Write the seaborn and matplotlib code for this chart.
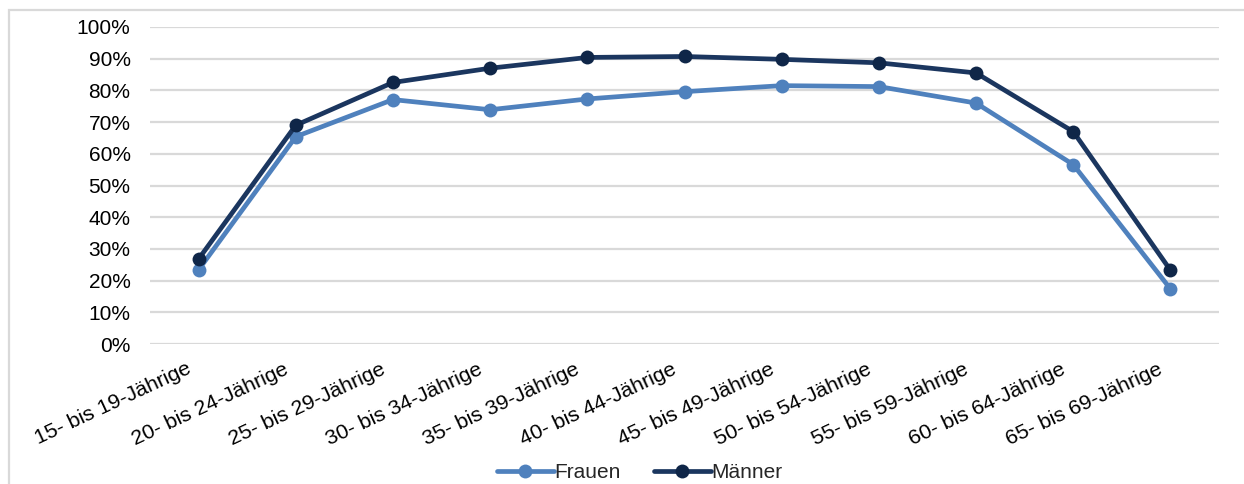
import matplotlib
matplotlib.use("Agg")
import matplotlib.pyplot as plt
import matplotlib.patches as mpatches
from matplotlib.lines import Line2D
import seaborn as sns
import pandas as pd

categories = ["15- bis 19-Jährige", "20- bis 24-Jährige", "25- bis 29-Jährige",
              "30- bis 34-Jährige", "35- bis 39-Jährige", "40- bis 44-Jährige",
              "45- bis 49-Jährige", "50- bis 54-Jährige", "55- bis 59-Jährige",
              "60- bis 64-Jährige", "65- bis 69-Jährige"]
frauen = [23.4, 65.4, 77.1, 73.9, 77.3, 79.6, 81.5, 81.2, 76.0, 56.6, 17.4]
maenner = [26.8, 69.0, 82.5, 87.0, 90.4, 90.7, 89.8, 88.7, 85.5, 67.0, 23.3]
series_names = ["Frauen", "Männer"]
yticks = [0, 10, 20, 30, 40, 50, 60, 70, 80, 90, 100]
ytick_labels = [f"{v}%" for v in yticks]

col_f = "#4F81BD"
col_m = "#1B365F"
mfc_m = "#0F2648"
LW = 3.4
MS = 10

df = pd.DataFrame({
    "Altersgruppe": categories * 2,
    "Wert": frauen + maenner,
    "Geschlecht": [series_names[0]] * len(categories) + [series_names[1]] * len(categories),
})

sns.set_theme(style="white")
plt.rcParams["font.family"] = ["Liberation Sans", "DejaVu Sans"]

fig = plt.figure(figsize=(12.44, 4.84), dpi=100)
W, H = 1244, 484
ax = fig.add_axes([150 / W, 1 - 344 / H, (1219 - 150) / W, (344 - 27) / H])

sns.lineplot(data=df, x="Altersgruppe", y="Wert", hue="Geschlecht",
             palette={"Frauen": col_f, "Männer": col_m},
             hue_order=series_names, sort=False, ax=ax,
             linewidth=LW, marker="o", markersize=MS, markeredgewidth=0,
             legend=False)

for ln in ax.get_lines():
    if matplotlib.colors.to_hex(ln.get_color()) == col_m.lower():
        ln.set_markerfacecolor(mfc_m)
        ln.set_zorder(4)

ax.set_xlim(-0.5, len(categories) - 0.5)
ax.set_ylim(0, 100)
ax.set_yticks(yticks)
ax.set_yticklabels(ytick_labels, fontsize=15, color="#000000")
# label anchors sit slightly left of each category centre (invisible ticks)
label_shift = 0.13
ax.set_xticks([i - label_shift for i in range(len(categories))])
ax.set_xticklabels(categories, fontsize=15.3, color="#000000", rotation=25,
                   ha="right", va="top", rotation_mode="anchor")
ax.tick_params(axis="both", length=0)
ax.tick_params(axis="y", pad=14)
ax.tick_params(axis="x", pad=11)
ax.set_xlabel("")
ax.set_ylabel("")
ax.yaxis.grid(True, color="#D9D9D9", linewidth=1.6)
ax.set_axisbelow(True)
for s in ax.spines.values():
    s.set_visible(False)

handles = [
    Line2D([], [], color=col_f, linewidth=LW, marker="o", markersize=MS,
           markeredgewidth=0),
    Line2D([], [], color=col_m, linewidth=LW, marker="o", markersize=MS,
           markerfacecolor=mfc_m, markeredgewidth=0),
]
fig.legend(handles, series_names, loc="center", bbox_to_anchor=(640 / W, 1 - 473 / H),
           ncol=2, frameon=False, fontsize=15, handlelength=2.7, handletextpad=0.05,
           columnspacing=1.6, borderaxespad=0)

border = mpatches.Rectangle((9 / W, -0.05), 1.1, 1 - 10 / H + 0.05,
                            transform=fig.transFigure, fill=False,
                            edgecolor="#D9D9D9", linewidth=1.6, clip_on=False)
fig.patches.append(border)

fig.savefig("out.png", dpi=100, facecolor="white")
